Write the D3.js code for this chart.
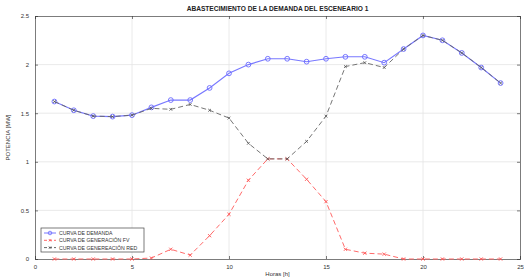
<!DOCTYPE html>
<html>
<head>
<meta charset="utf-8">
<script src="https://cdn.jsdelivr.net/npm/d3@7"></script>
<style>
  body { margin: 0; background: #fff; }
  text { font-family: "Liberation Sans", Arial, sans-serif; }
</style>
</head>
<body>
<div id="chart"></div>
<script>
const hours = [1,2,3,4,5,6,7,8,9,10,11,12,13,14,15,16,17,18,19,20,21,22,23,24];
const demanda = [1.62,1.53,1.47,1.465,1.48,1.56,1.635,1.635,1.76,1.91,2.0,2.06,2.06,2.03,2.06,2.08,2.08,2.02,2.16,2.30,2.25,2.12,1.97,1.81];
const generacionFV = [0,0,0,0,0,0.01,0.10,0.04,0.24,0.46,0.81,1.03,1.03,0.82,0.59,0.10,0.06,0.05,0,0,0,0,0,0];
const generacionRed = [1.62,1.53,1.47,1.465,1.48,1.55,1.54,1.59,1.53,1.45,1.19,1.03,1.03,1.21,1.47,1.98,2.02,1.97,2.16,2.30,2.25,2.12,1.97,1.81];
const xTicks = [0,5,10,15,20,25];
const yTicks = [0,0.5,1,1.5,2,2.5];
const seriesNames = ["CURVA DE DEMANDA","CURVA DE GENERACIÓN FV","CURVA DE GENEREACIÓN RED"];

const width = 524, height = 279;
const margin = {top: 16, right: 4, bottom: 20, left: 35};

const svg = d3.select("#chart").append("svg")
    .attr("width", width)
    .attr("height", height);

const x = d3.scaleLinear().domain([0, 25]).range([margin.left, width - margin.right]);
const y = d3.scaleLinear().domain([0, 2.5]).range([height - margin.bottom, margin.top]);

// grid
svg.append("g").selectAll("line")
    .data(xTicks.slice(1, -1))
    .join("line")
        .attr("x1", d => x(d)).attr("x2", d => x(d))
        .attr("y1", y(0)).attr("y2", y(2.5))
        .attr("stroke", "#e4e4e4").attr("stroke-width", 0.8);
svg.append("g").selectAll("line")
    .data(yTicks.slice(1, -1))
    .join("line")
        .attr("x1", x(0)).attr("x2", x(25))
        .attr("y1", d => y(d)).attr("y2", d => y(d))
        .attr("stroke", "#e4e4e4").attr("stroke-width", 0.8);

// axes (MATLAB style, ticks inside)
const xAxis = svg.append("g")
    .attr("transform", `translate(0,${y(0)})`)
    .call(d3.axisBottom(x).tickValues(xTicks).tickSize(-3).tickPadding(6));
const yAxis = svg.append("g")
    .attr("transform", `translate(${x(0)},0)`)
    .call(d3.axisLeft(y).tickValues(yTicks).tickSize(-3).tickPadding(6).tickFormat(d3.format("")));
svg.append("g")
    .attr("transform", `translate(0,${y(2.5)})`)
    .call(d3.axisTop(x).tickValues(xTicks).tickSize(-3).tickFormat(""));
svg.append("g")
    .attr("transform", `translate(${x(25)},0)`)
    .call(d3.axisRight(y).tickValues(yTicks).tickSize(-3).tickFormat(""));
svg.selectAll(".domain, .tick line").attr("stroke", "#444").attr("stroke-width", 0.7);
svg.selectAll(".tick text").attr("fill", "#333").attr("font-size", 6)
    .attr("font-family", "Liberation Sans, Arial, sans-serif");

// lines
const line = d3.line()
    .x((d, i) => x(hours[i]))
    .y(d => y(d));

function crossPath(s) {
    return `M${-s},${-s}L${s},${s}M${-s},${s}L${s},${-s}`;
}

// red: PV
svg.append("path")
    .attr("d", line(generacionFV))
    .attr("fill", "none")
    .attr("stroke", "#ff6b6b")
    .attr("stroke-width", 1)
    .attr("stroke-dasharray", "5,3");
svg.append("g").selectAll("path")
    .data(generacionFV)
    .join("path")
        .attr("transform", (d, i) => `translate(${x(hours[i])},${y(d)})`)
        .attr("d", crossPath(1.6))
        .attr("stroke", "#ff5555").attr("stroke-width", 0.9);

// blue: demand
svg.append("path")
    .attr("d", line(demanda))
    .attr("fill", "none")
    .attr("stroke", "#7878ff")
    .attr("stroke-width", 1.1);
svg.append("g").selectAll("circle")
    .data(demanda)
    .join("circle")
        .attr("cx", (d, i) => x(hours[i]))
        .attr("cy", d => y(d))
        .attr("r", 2.4)
        .attr("fill", "none")
        .attr("stroke", "#6a6aff")
        .attr("stroke-width", 0.9);

// grey: grid
svg.append("path")
    .attr("d", line(generacionRed))
    .attr("fill", "none")
    .attr("stroke", "#666")
    .attr("stroke-width", 0.9)
    .attr("stroke-dasharray", "5,3");
svg.append("g").selectAll("path")
    .data(generacionRed)
    .join("path")
        .attr("transform", (d, i) => `translate(${x(hours[i])},${y(d)})`)
        .attr("d", crossPath(1.4))
        .attr("stroke", "#555").attr("stroke-width", 0.8);

// title and labels
svg.append("text")
    .attr("x", (x(0) + x(25)) / 2)
    .attr("y", 11)
    .attr("text-anchor", "middle")
    .attr("font-size", 6.6)
    .attr("font-weight", "bold")
    .attr("fill", "#222")
    .text("ABASTECIMIENTO DE LA DEMANDA DEL ESCENEARIO 1");
svg.append("text")
    .attr("x", (x(0) + x(25)) / 2)
    .attr("y", 276)
    .attr("text-anchor", "middle")
    .attr("font-size", 6)
    .attr("fill", "#333")
    .text("Horas [h]");
svg.append("text")
    .attr("transform", `translate(10,${(y(0) + y(2.5)) / 2}) rotate(-90)`)
    .attr("text-anchor", "middle")
    .attr("font-size", 6)
    .attr("fill", "#333")
    .text("POTENCIA [MW]");

// legend
const legend = svg.append("g").attr("transform", "translate(41,228)");
legend.append("rect")
    .attr("width", 103).attr("height", 24)
    .attr("fill", "#fff").attr("stroke", "#444").attr("stroke-width", 0.7);
const legendStyles = [
    {color: "#6a6aff", dash: null, marker: "circle"},
    {color: "#ff5555", dash: "3,2", marker: "cross"},
    {color: "#555", dash: "3,2", marker: "cross"}
];
seriesNames.forEach((name, i) => {
    const gy = 5 + i * 7.3;
    const st = legendStyles[i];
    legend.append("line")
        .attr("x1", 3).attr("x2", 15)
        .attr("y1", gy).attr("y2", gy)
        .attr("stroke", st.color).attr("stroke-width", 0.9)
        .attr("stroke-dasharray", st.dash);
    if (st.marker === "circle") {
        legend.append("circle").attr("cx", 9).attr("cy", gy).attr("r", 1.8)
            .attr("fill", "none").attr("stroke", st.color).attr("stroke-width", 0.8);
    } else {
        legend.append("path").attr("transform", `translate(9,${gy})`)
            .attr("d", crossPath(1.2)).attr("stroke", st.color).attr("stroke-width", 0.8);
    }
    legend.append("text")
        .attr("x", 18).attr("y", gy + 2)
        .attr("font-size", 5.2)
        .attr("fill", "#333")
        .text(name);
});
</script>
</body>
</html>
